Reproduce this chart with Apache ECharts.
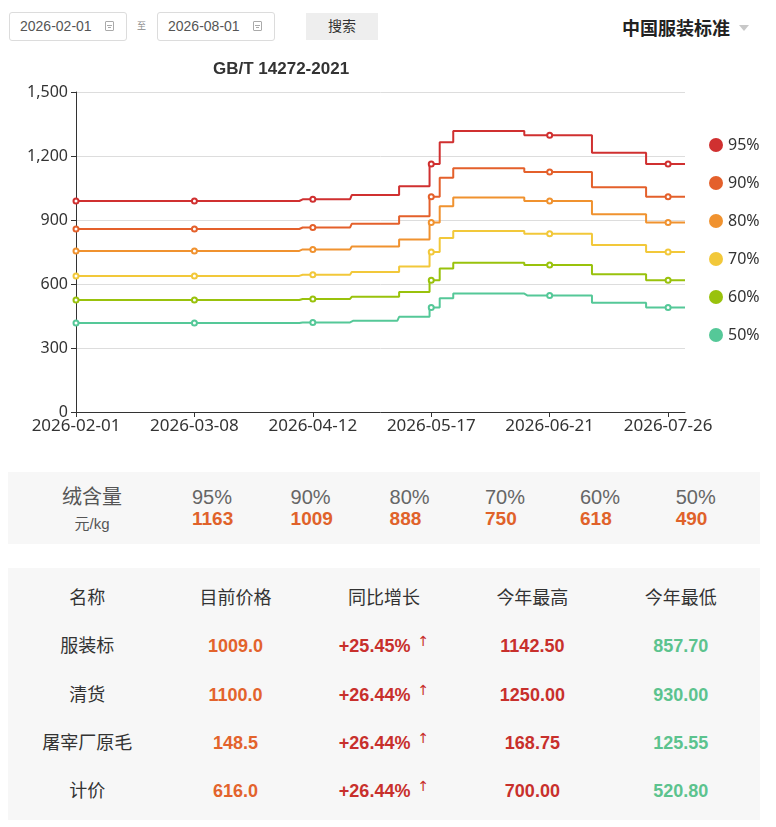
<!DOCTYPE html>
<html>
<head>
<meta charset="utf-8">
<script src="https://cdn.jsdelivr.net/npm/echarts@6/dist/echarts.min.js"></script>
<style>
  html, body { margin:0; padding:0; background:#fff; }
  body { width:776px; height:827px; position:relative; overflow:hidden;
         font-family:"Liberation Sans","Noto Sans CJK SC",sans-serif; color:#333; }
  .abs { position:absolute; }
  .inp { position:absolute; top:12px; height:29px; width:118px; border:1px solid #dcdcdc; border-radius:3px; background:#fff; box-sizing:border-box; }
  .inp .txt { position:absolute; left:10px; top:0; line-height:27px; font-size:14px; color:#555; }
  .cal { position:absolute; left:95px; top:8px; width:9px; height:10px; border:1px solid #aaa; border-radius:1px; box-sizing:border-box; }
  .cal:before { content:""; position:absolute; left:1px; right:1px; top:3px; border-top:1px solid #aaa; }
  .cal:after { content:""; position:absolute; left:2px; width:3px; top:5px; border-top:1px solid #aaa; }
  #btn { left:306px; top:13px; width:72px; height:27px; background:#eeeeee; font-size:14px; line-height:27px; text-align:center; color:#333; }
  #brand { left:622px; top:17px; font-size:18px; font-weight:bold; line-height:24px; color:#222; }
  #tri { left:739px; top:25px; width:0; height:0; border-left:5px solid transparent; border-right:5px solid transparent; border-top:6px solid #c8c8c8; }
  #chart { position:absolute; left:0; top:50px; width:776px; height:400px; }
  #stats { left:8px; top:472px; width:752px; height:72px; background:#f7f7f7; }
  #tbl { left:8px; top:568px; width:752px; height:252px; background:#f7f7f7; }
  .cell { position:absolute; text-align:center; white-space:nowrap; }
  .up { display:inline-block; margin-left:7px; position:relative; top:-6px; font-size:14px; font-family:"DejaVu Sans",sans-serif; font-weight:normal; line-height:14px; }
</style>
</head>
<body>
<div class="inp" style="left:9px"><span class="txt">2026-02-01</span><span class="cal"></span></div>
<div class="abs" style="left:137px;top:20px;font-size:9px;color:#888;line-height:12px">至</div>
<div class="inp" style="left:157px"><span class="txt">2026-08-01</span><span class="cal"></span></div>
<div id="btn" class="abs">搜索</div>
<div id="brand" class="abs">中国服装标准</div>
<div id="tri" class="abs"></div>
<div id="chart"></div>
<div id="stats" class="abs"></div>
<div id="tbl" class="abs"></div>
<script>
// ---------- data ----------
const startDay = [2026, 1, 1];   // 2026-02-01
const dayCount = 181;            // through 2026-07-31
const seriesNames = ['95%', '90%', '80%', '70%', '60%', '50%'];
const seriesColors = ['#d03030', '#e4602b', '#f0922f', '#f2c83a', '#99c20c', '#55c898'];

const price95 = [
  989,989,989,989,989,989,989,989,989,989,
  989,989,989,989,989,989,989,989,989,989,
  989,989,989,989,989,989,989,989,989,989,
  989,989,989,989,989,989,989,989,989,989,
  989,989,989,989,989,989,989,989,989,989,
  989,989,989,989,989,989,989,989,989,989,
  989,989,989,989,989,989,989,
  997,997,997,997,997,997,997,997,997,997,
  997,997,997,997,997,
  1017,1017,1017,1017,1017,1017,1017,1017,1017,1017,
  1017,1017,1017,1017,
  1058,1058,1058,1058,1058,1058,1058,1058,1058,
  1163,1163,1163,
  1265,1265,1265,1265,
  1317,1317,1317,1317,1317,1317,1317,1317,1317,1317,
  1317,1317,1317,1317,1317,1317,1317,1317,1317,1317,
  1317,
  1297,1297,1297,1297,1297,1297,1297,1297,1297,1297,
  1297,1297,1297,1297,1297,1297,1297,1297,1297,1297,
  1215,1215,1215,1215,1215,1215,1215,1215,1215,1215,
  1215,1215,1215,1215,1215,1215,
  1163,1163,1163,1163,1163,1163,1163,1163,1163,1163,
  1163,1163
];
const price90 = [
  857.7,857.7,857.7,857.7,857.7,857.7,857.7,857.7,857.7,857.7,
  857.7,857.7,857.7,857.7,857.7,857.7,857.7,857.7,857.7,857.7,
  857.7,857.7,857.7,857.7,857.7,857.7,857.7,857.7,857.7,857.7,
  857.7,857.7,857.7,857.7,857.7,857.7,857.7,857.7,857.7,857.7,
  857.7,857.7,857.7,857.7,857.7,857.7,857.7,857.7,857.7,857.7,
  857.7,857.7,857.7,857.7,857.7,857.7,857.7,857.7,857.7,857.7,
  857.7,857.7,857.7,857.7,857.7,857.7,857.7,
  865,865,865,865,865,865,865,865,865,865,
  865,865,865,865,865,
  882,882,882,882,882,882,882,882,882,882,
  882,882,882,882,
  918,918,918,918,918,918,918,918,918,
  1009,1009,1009,
  1098,1098,1098,1098,
  1142.5,1142.5,1142.5,1142.5,1142.5,1142.5,1142.5,1142.5,1142.5,1142.5,
  1142.5,1142.5,1142.5,1142.5,1142.5,1142.5,1142.5,1142.5,1142.5,1142.5,
  1142.5,
  1125,1125,1125,1125,1125,1125,1125,1125,1125,1125,
  1125,1125,1125,1125,1125,1125,1125,1125,1125,1125,
  1054,1054,1054,1054,1054,1054,1054,1054,1054,1054,
  1054,1054,1054,1054,1054,1054,
  1009,1009,1009,1009,1009,1009,1009,1009,1009,1009,
  1009,1009
];
const price80 = [
  755,755,755,755,755,755,755,755,755,755,
  755,755,755,755,755,755,755,755,755,755,
  755,755,755,755,755,755,755,755,755,755,
  755,755,755,755,755,755,755,755,755,755,
  755,755,755,755,755,755,755,755,755,755,
  755,755,755,755,755,755,755,755,755,755,
  755,755,755,755,755,755,755,
  762,762,762,762,762,762,762,762,762,762,
  762,762,762,762,762,
  776,776,776,776,776,776,776,776,776,776,
  776,776,776,776,
  809,809,809,809,809,809,809,809,809,
  888,888,888,
  965,965,965,965,
  1005,1005,1005,1005,1005,1005,1005,1005,1005,1005,
  1005,1005,1005,1005,1005,1005,1005,1005,1005,1005,
  1005,
  989,989,989,989,989,989,989,989,989,989,
  989,989,989,989,989,989,989,989,989,989,
  927,927,927,927,927,927,927,927,927,927,
  927,927,927,927,927,927,
  888,888,888,888,888,888,888,888,888,888,
  888,888
];
const price70 = [
  638,638,638,638,638,638,638,638,638,638,
  638,638,638,638,638,638,638,638,638,638,
  638,638,638,638,638,638,638,638,638,638,
  638,638,638,638,638,638,638,638,638,638,
  638,638,638,638,638,638,638,638,638,638,
  638,638,638,638,638,638,638,638,638,638,
  638,638,638,638,638,638,638,
  643,643,643,643,643,643,643,643,643,643,
  643,643,643,643,643,
  656,656,656,656,656,656,656,656,656,656,
  656,656,656,656,
  682,682,682,682,682,682,682,682,682,
  750,750,750,
  816,816,816,816,
  849,849,849,849,849,849,849,849,849,849,
  849,849,849,849,849,849,849,849,849,849,
  849,
  836,836,836,836,836,836,836,836,836,836,
  836,836,836,836,836,836,836,836,836,836,
  783,783,783,783,783,783,783,783,783,783,
  783,783,783,783,783,783,
  750,750,750,750,750,750,750,750,750,750,
  750,750
];
const price60 = [
  525,525,525,525,525,525,525,525,525,525,
  525,525,525,525,525,525,525,525,525,525,
  525,525,525,525,525,525,525,525,525,525,
  525,525,525,525,525,525,525,525,525,525,
  525,525,525,525,525,525,525,525,525,525,
  525,525,525,525,525,525,525,525,525,525,
  525,525,525,525,525,525,525,
  530,530,530,530,530,530,530,530,530,530,
  530,530,530,530,530,
  540,540,540,540,540,540,540,540,540,540,
  540,540,540,540,
  562,562,562,562,562,562,562,562,562,
  618,618,618,
  673,673,673,673,
  700,700,700,700,700,700,700,700,700,700,
  700,700,700,700,700,700,700,700,700,700,
  700,
  689,689,689,689,689,689,689,689,689,689,
  689,689,689,689,689,689,689,689,689,689,
  646,646,646,646,646,646,646,646,646,646,
  646,646,646,646,646,646,
  618,618,618,618,618,618,618,618,618,618,
  618,618
];
const price50 = [
  417,417,417,417,417,417,417,417,417,417,
  417,417,417,417,417,417,417,417,417,417,
  417,417,417,417,417,417,417,417,417,417,
  417,417,417,417,417,417,417,417,417,417,
  417,417,417,417,417,417,417,417,417,417,
  417,417,417,417,417,417,417,417,417,417,
  417,417,417,417,417,417,417,
  420,420,420,420,420,420,420,420,420,420,
  420,420,420,420,420,
  428,428,428,428,428,428,428,428,428,428,
  428,428,428,428,
  446,446,446,446,446,446,446,446,446,
  490,490,490,
  533,533,533,533,
  555,555,555,555,555,555,555,555,555,555,
  555,555,555,555,555,555,555,555,555,555,
  555,
  546,546,546,546,546,546,546,546,546,546,
  546,546,546,546,546,546,546,546,546,546,
  512,512,512,512,512,512,512,512,512,512,
  512,512,512,512,512,512,
  490,490,490,490,490,490,490,490,490,490,
  490,490
];

const purityLabels = ['95%', '90%', '80%', '70%', '60%', '50%'];
const latestPrices = [1163, 1009, 888, 750, 618, 490];

const tableHeaders = ['名称', '目前价格', '同比增长', '今年最高', '今年最低'];
const rowNames = ['服装标', '清货', '屠宰厂原毛', '计价'];
const currentPrices = ['1009.0', '1100.0', '148.5', '616.0'];
const yoyGrowth = ['+25.45%', '+26.44%', '+26.44%', '+26.44%'];
const yearHigh = ['1142.50', '1250.00', '168.75', '700.00'];
const yearLow = ['857.70', '930.00', '125.55', '520.80'];

// ---------- categories ----------
const dates = [];
for (let i = 0; i < dayCount; i++) {
  const d = new Date(Date.UTC(startDay[0], startDay[1], startDay[2] + i));
  dates.push(d.toISOString().slice(0, 10));
}

// ---------- chart ----------
const seriesData = [price95, price90, price80, price70, price60, price50];
const chart = echarts.init(document.getElementById('chart'));
chart.setOption({
  animation: false,
  title: {
    text: 'GB/T 14272-2021', left: 208, top: 6,
    textStyle: { fontSize: 17, fontWeight: 'bold', color: '#333', fontFamily: 'Liberation Sans' }
  },
  legend: {
    orient: 'vertical', left: 704, top: 82, icon: 'circle',
    itemWidth: 14, itemHeight: 14, itemGap: 22,
    textStyle: { fontSize: 16, color: '#333', fontFamily: 'Noto Sans' },
    data: seriesNames
  },
  grid: { left: 76, right: 91, top: 42, bottom: 38 },
  xAxis: {
    type: 'category', data: dates, boundaryGap: false,
    axisLine: { lineStyle: { color: '#333' } },
    axisTick: { interval: 34, length: 5, lineStyle: { color: '#333' } },
    axisLabel: { interval: 34, fontSize: 17, color: '#333', fontFamily: 'Noto Sans', margin: 6 },
    splitLine: { show: false }
  },
  yAxis: {
    type: 'value', min: 0, max: 1500, interval: 300,
    axisLine: { show: true, lineStyle: { color: '#333' } },
    axisTick: { show: true, length: 5, lineStyle: { color: '#333' } },
    axisLabel: { fontSize: 16, color: '#333', fontFamily: 'Noto Sans', margin: 8,
      formatter: v => v.toLocaleString('en-US') },
    splitLine: { lineStyle: { color: '#dddddd' } }
  },
  series: seriesNames.map((name, i) => ({
    name: name, type: 'line', step: 'middle', data: seriesData[i],
    color: seriesColors[i],
    symbol: 'emptyCircle', symbolSize: 5,
    itemStyle: { color: seriesColors[i], borderWidth: 1.2 },
    lineStyle: { width: 2, color: seriesColors[i] },
    emphasis: { disabled: true }
  }))
});

// ---------- stats box ----------
const stats = document.getElementById('stats');
stats.innerHTML =
  '<div class="cell" style="left:52px;width:64px;top:12px;line-height:26px;font-size:20px;color:#555">绒含量</div>' +
  '<div class="cell" style="left:52px;width:64px;top:42px;line-height:20px;font-size:15px;color:#555">元/kg</div>';
const statLefts = [184, 282.6, 381.6, 477, 572, 667.7];
purityLabels.forEach((lab, k) => {
  stats.innerHTML +=
    '<div class="abs" style="left:' + statLefts[k] + 'px;top:12px;line-height:26px;font-size:20px;color:#666">' + lab + '</div>' +
    '<div class="abs" style="left:' + statLefts[k] + 'px;top:35px;line-height:24px;font-size:19px;font-weight:bold;color:#e0622a">' + latestPrices[k] + '</div>';
});

// ---------- table ----------
const tbl = document.getElementById('tbl');
const colW = 148.4, rowH = 48.35, padL = 5, padT = 6;
let html = '';
tableHeaders.forEach((h, j) => {
  html += '<div class="cell" style="left:' + (padL + colW * j) + 'px;width:' + colW + 'px;top:' + padT + 'px;height:' + rowH + 'px;line-height:' + rowH + 'px;font-size:18px;color:#333">' + h + '</div>';
});
rowNames.forEach((n, r) => {
  const top = padT + rowH * (r + 1);
  const base = 'top:' + top + 'px;height:' + rowH + 'px;line-height:' + rowH + 'px;width:' + colW + 'px;';
  html += '<div class="cell" style="' + base + 'left:' + padL + 'px;font-size:18px;color:#333">' + n + '</div>';
  html += '<div class="cell" style="' + base + 'left:' + (padL + colW) + 'px;font-size:18px;font-weight:bold;color:#e3632c">' + currentPrices[r] + '</div>';
  html += '<div class="cell" style="' + base + 'left:' + (padL + colW * 2) + 'px;font-size:18px;font-weight:bold;color:#c8302c">' + yoyGrowth[r] +
          '<span class="up">↑</span></div>';
  html += '<div class="cell" style="' + base + 'left:' + (padL + colW * 3) + 'px;font-size:18px;font-weight:bold;color:#c8302c">' + yearHigh[r] + '</div>';
  html += '<div class="cell" style="' + base + 'left:' + (padL + colW * 4) + 'px;font-size:18px;font-weight:bold;color:#5cc38e">' + yearLow[r] + '</div>';
});
tbl.innerHTML = html;
</script>
</body>
</html>
